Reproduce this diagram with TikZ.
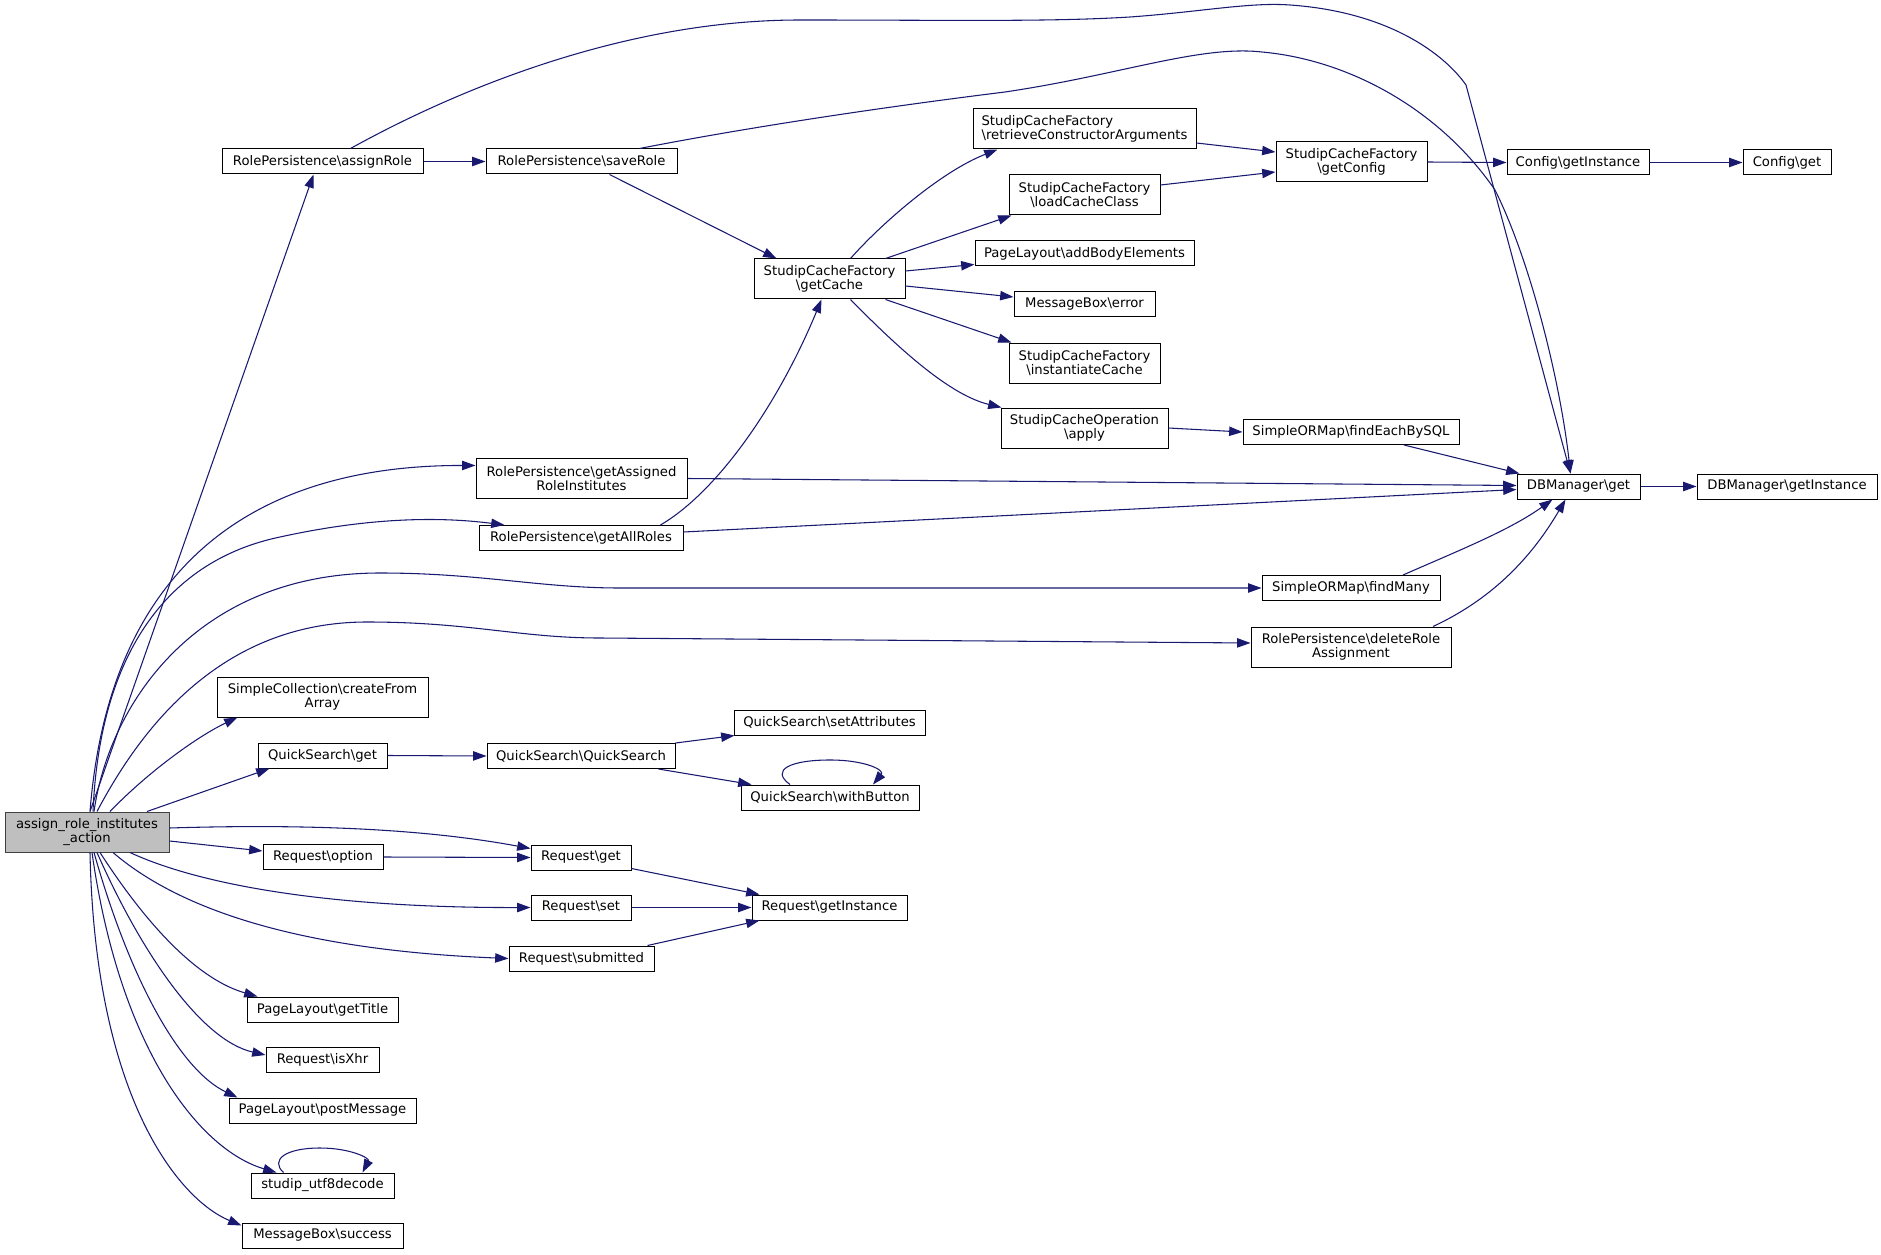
\documentclass[tikz,border=0pt]{standalone}
\usepackage{fontspec}
\setmainfont{DejaVu Sans}
\usetikzlibrary{arrows.meta,calc}
\definecolor{edgeblue}{HTML}{191970}
\definecolor{rootgray}{HTML}{BFBFBF}
\definecolor{rootline}{HTML}{404040}
\newcommand{\bs}{\textbackslash}

\begin{document}
\begin{tikzpicture}[x=0.75pt,y=-0.75pt,
  fn/.style={draw=black, line width=0.75pt, fill=white, inner sep=0pt,
    minimum height=18.75pt, align=center, font=\fontsize{9.9}{10.3}\selectfont},
  tall/.style={minimum height=30pt},
  wd/.style={minimum width=#1*0.75pt},
  call/.style={draw=edgeblue, line width=0.8pt, -{Triangle[length=10pt,width=7pt]}}]
\useasboundingbox (0,0) rectangle (1881,1255);

% first column
\node[fn, fill=rootgray, draw=rootline, tall, wd=164] (root) at (87,832) {assign\_role\_institutes\\\_action};

% second column
\node[fn, wd=201] (assignRole) at (322.5,161.5) {RolePersistence\bs assignRole};
\node[fn, tall, wd=211] (simpleColl) at (322.5,697) {SimpleCollection\bs createFrom\\Array};
\node[fn, wd=129] (qsGet) at (322.5,755.5) {QuickSearch\bs get};
\node[fn, wd=120] (reqOption) at (323,857) {Request\bs option};
\node[fn, wd=151] (getTitle) at (322.5,1009.5) {PageLayout\bs getTitle};
\node[fn, wd=113] (isXhr) at (322.5,1060) {Request\bs isXhr};
\node[fn, wd=187] (postMessage) at (322.5,1110.5) {PageLayout\bs postMessage};
\node[fn, wd=143] (utf8) at (322.5,1185.5) {studip\_utf8decode};
\node[fn, wd=161] (success) at (322.5,1235.5) {MessageBox\bs success};

% third column
\node[fn, wd=191] (saveRole) at (581.5,161.5) {RolePersistence\bs saveRole};
\node[fn, tall, wd=211] (getAssigned) at (581.5,478.5) {RolePersistence\bs getAssigned\\RoleInstitutes};
\node[fn, wd=204] (getAllRoles) at (581,538) {RolePersistence\bs getAllRoles};
\node[fn, wd=188] (qsQuickSearch) at (581,756) {QuickSearch\bs QuickSearch};
\node[fn, wd=100] (reqGet) at (581,857.5) {Request\bs get};
\node[fn, wd=100] (reqSet) at (581,907.5) {Request\bs set};
\node[fn, wd=145] (reqSubmitted) at (581.5,958.5) {Request\bs submitted};

% fourth column
\node[fn, tall, wd=151] (getCache) at (829.5,279) {StudipCacheFactory\\\bs getCache};
\node[fn, wd=191] (qsSetAttr) at (829.5,722.5) {QuickSearch\bs setAttributes};
\node[fn, wd=178] (qsButton) at (830,797.5) {QuickSearch\bs withButton};
\node[fn, wd=155] (reqInstance) at (829.5,907.5) {Request\bs getInstance};

% fifth column
\node[fn, tall, wd=223, align=left] (retrieveCA) at (1084.5,129) {StudipCacheFactory\\\bs retrieveConstructorArguments};
\node[fn, tall, wd=151] (loadCache) at (1084.5,195) {StudipCacheFactory\\\bs loadCacheClass};
\node[fn, wd=219] (addBody) at (1084.5,253.5) {PageLayout\bs addBodyElements};
\node[fn, wd=141] (msgError) at (1084.5,304) {MessageBox\bs error};
\node[fn, tall, wd=151] (instCache) at (1084.5,363) {StudipCacheFactory\\\bs instantiateCache};
\node[fn, tall, wd=167] (cacheApply) at (1084.5,428) {StudipCacheOperation\\\bs apply};

% sixth column
\node[fn, tall, wd=151] (getConfig) at (1351.5,162) {StudipCacheFactory\\\bs getConfig};
\node[fn, wd=216] (findEach) at (1351,432) {SimpleORMap\bs findEachBySQL};
\node[fn, wd=178] (findMany) at (1351,588) {SimpleORMap\bs findMany};
\node[fn, tall, wd=200] (deleteRole) at (1351,647) {RolePersistence\bs deleteRole\\Assignment};

% last columns
\node[fn, wd=142] (cfgInstance) at (1578,162.5) {Config\bs getInstance};
\node[fn, wd=123] (dbGet) at (1578.5,486.5) {DBManager\bs get};
\node[fn, wd=88] (cfgGet) at (1787,162.5) {Config\bs get};
\node[fn, wd=180] (dbInstance) at (1787,486.5) {DBManager\bs getInstance};

% calls of the action
\draw[call] ($(root.north)+(3,0)$) -- ($(assignRole.south)+(-9,0)$);
\draw[call] ($(root.north)+(3,0)$) .. controls (110,560) and (260,465) .. ($(getAssigned.west)+(0,-13)$);
\draw[call] ($(root.north)+(6,0)$) .. controls (100,650) and (170,560) .. (280,537) .. controls (380,515) and (450,518) .. ($(getAllRoles.north west)+(26,0)$);
\draw[call] ($(root.north)+(7,0)$) .. controls (110,700) and (200,573) .. (380,573) .. controls (480,573) and (540,588) .. (620,588) -- (findMany.west);
\draw[call] ($(root.north)+(10,0)$) .. controls (140,730) and (220,622) .. (367,622) .. controls (470,622) and (520,638) .. (600,638) -- ($(deleteRole.west)+(0,-4)$);
\draw[call] ($(root.north)+(23,0)$) .. controls (150,770) and (200,735) .. ($(simpleColl.south west)+(21,0)$);
\draw[call] ($(root.north)+(60,0)$) -- ($(qsGet.south west)+(12,0)$);
\draw[call] ($(root.east)+(0,-4)$) .. controls (300,824) and (420,828) .. ($(reqGet.west)+(0,-9)$);
\draw[call] ($(root.east)+(0,9)$) -- ($(reqOption.west)+(0,-6)$);
\draw[call] ($(root.south)+(43,0)$) .. controls (200,885) and (330,908) .. (reqSet.west);
\draw[call] ($(root.south)+(26,0)$) .. controls (180,910) and (300,950) .. (reqSubmitted.west);
\draw[call] ($(root.south)+(13,0)$) .. controls (150,930) and (200,980) .. ($(getTitle.north west)+(11,0)$);
\draw[call] ($(root.south)+(10,0)$) .. controls (140,950) and (200,1040) .. ($(isXhr.west)+(0,-5)$);
\draw[call] ($(root.south)+(7,0)$) .. controls (130,980) and (180,1070) .. ($(postMessage.north west)+(9,0)$);
\draw[call] ($(root.south)+(5,0)$) .. controls (120,1050) and (200,1150) .. ($(utf8.north west)+(26,0)$);
\draw[call] ($(root.south)+(3,0)$) .. controls (95,1100) and (180,1200) .. ($(success.west)+(0,-10)$);

% RolePersistence
\draw[call] (assignRole.east) -- (saveRole.west);
\draw[call] ($(assignRole.north)+(28,0)$) .. controls (420,110) and (600,20) .. (800,20) .. controls (950,20) and (1050,22) .. (1130,17) .. controls (1200,12) and (1250,2) .. (1290,5) .. controls (1390,12) and (1445,55) .. (1466,85) -- ($(dbGet.north)+(-8,0)$);
\draw[call] ($(saveRole.north)+(58,0)$) .. controls (760,125) and (900,105) .. (1005,92) .. controls (1120,75) and (1200,45) .. (1262,52) .. controls (1350,60) and (1440,110) .. (1495,190) .. controls (1530,260) and (1560,380) .. ($(dbGet.north)+(-8,0)$);
\draw[call] ($(saveRole.south)+(28,0)$) -- ($(getCache.north)+(-53,0)$);
\draw[call] ($(getAllRoles.north east)+(-23,0)$) .. controls (720,490) and (780,400) .. ($(getCache.south)+(-8,0)$);
\draw[call] (getAssigned.east) -- ($(dbGet.west)+(0,-1)$);
\draw[call] ($(getAllRoles.east)+(0,-6)$) -- ($(dbGet.west)+(0,3)$);
\draw[call] ($(findMany.north)+(52,0)$) .. controls (1460,550) and (1510,530) .. ($(dbGet.south)+(-26,0)$);
\draw[call] ($(deleteRole.north)+(82,0)$) .. controls (1490,600) and (1530,560) .. ($(dbGet.south)+(-13,0)$);

% StudipCacheFactory
\draw[call] ($(getCache.north)+(21,0)$) .. controls (880,225) and (940,172) .. ($(retrieveCA.south west)+(25,0)$);
\draw[call] ($(getCache.north)+(56,0)$) -- ($(loadCache.south west)+(3,0)$);
\draw[call] ($(getCache.east)+(0,-8)$) -- ($(addBody.west)+(0,11)$);
\draw[call] ($(getCache.east)+(0,7)$) -- ($(msgError.west)+(0,-7)$);
\draw[call] ($(getCache.south)+(56,0)$) -- ($(instCache.north west)+(3,0)$);
\draw[call] ($(getCache.south)+(21,0)$) .. controls (900,350) and (950,395) .. ($(cacheApply.north west)+(1,0)$);
\draw[call] ($(retrieveCA.east)+(0,14)$) -- ($(getConfig.west)+(0,-10)$);
\draw[call] ($(loadCache.east)+(0,-10)$) -- ($(getConfig.west)+(0,10)$);
\draw[call] (getConfig.east) -- (cfgInstance.west);
\draw[call] (cfgInstance.east) -- (cfgGet.west);
\draw[call] (cacheApply.east) -- (findEach.west);
\draw[call] ($(findEach.south)+(53,0)$) -- ($(dbGet.north west)+(3,0)$);
\draw[call] (dbGet.east) -- (dbInstance.west);

% QuickSearch
\draw[call] (qsGet.east) -- (qsQuickSearch.west);
\draw[call] (qsQuickSearch.north east) -- ($(qsSetAttr.south west)+(1,0)$);
\draw[call] ($(qsQuickSearch.south east)+(-17,0)$) -- ($(qsButton.north west)+(11,0)$);
\draw[call] ($(qsButton.north)+(-40,0)$) .. controls (770,770) and (790,760) .. (830,760) .. controls (865,760) and (885,770) .. ($(qsButton.north)+(43,0)$);

% Request
\draw[call] (reqOption.east) -- (reqGet.west);
\draw[call] ($(reqGet.south east)+(0,-2)$) -- ($(reqInstance.north west)+(8,0)$);
\draw[call] (reqSet.east) -- (reqInstance.west);
\draw[call] ($(reqSubmitted.north east)+(-7,0)$) -- ($(reqInstance.south west)+(8,0)$);

% self call
\draw[call] ($(utf8.north)+(-39,0)$) .. controls (270,1160) and (285,1148) .. (320,1148) .. controls (350,1148) and (370,1158) .. ($(utf8.north)+(40,0)$);
\end{tikzpicture}
\end{document}
